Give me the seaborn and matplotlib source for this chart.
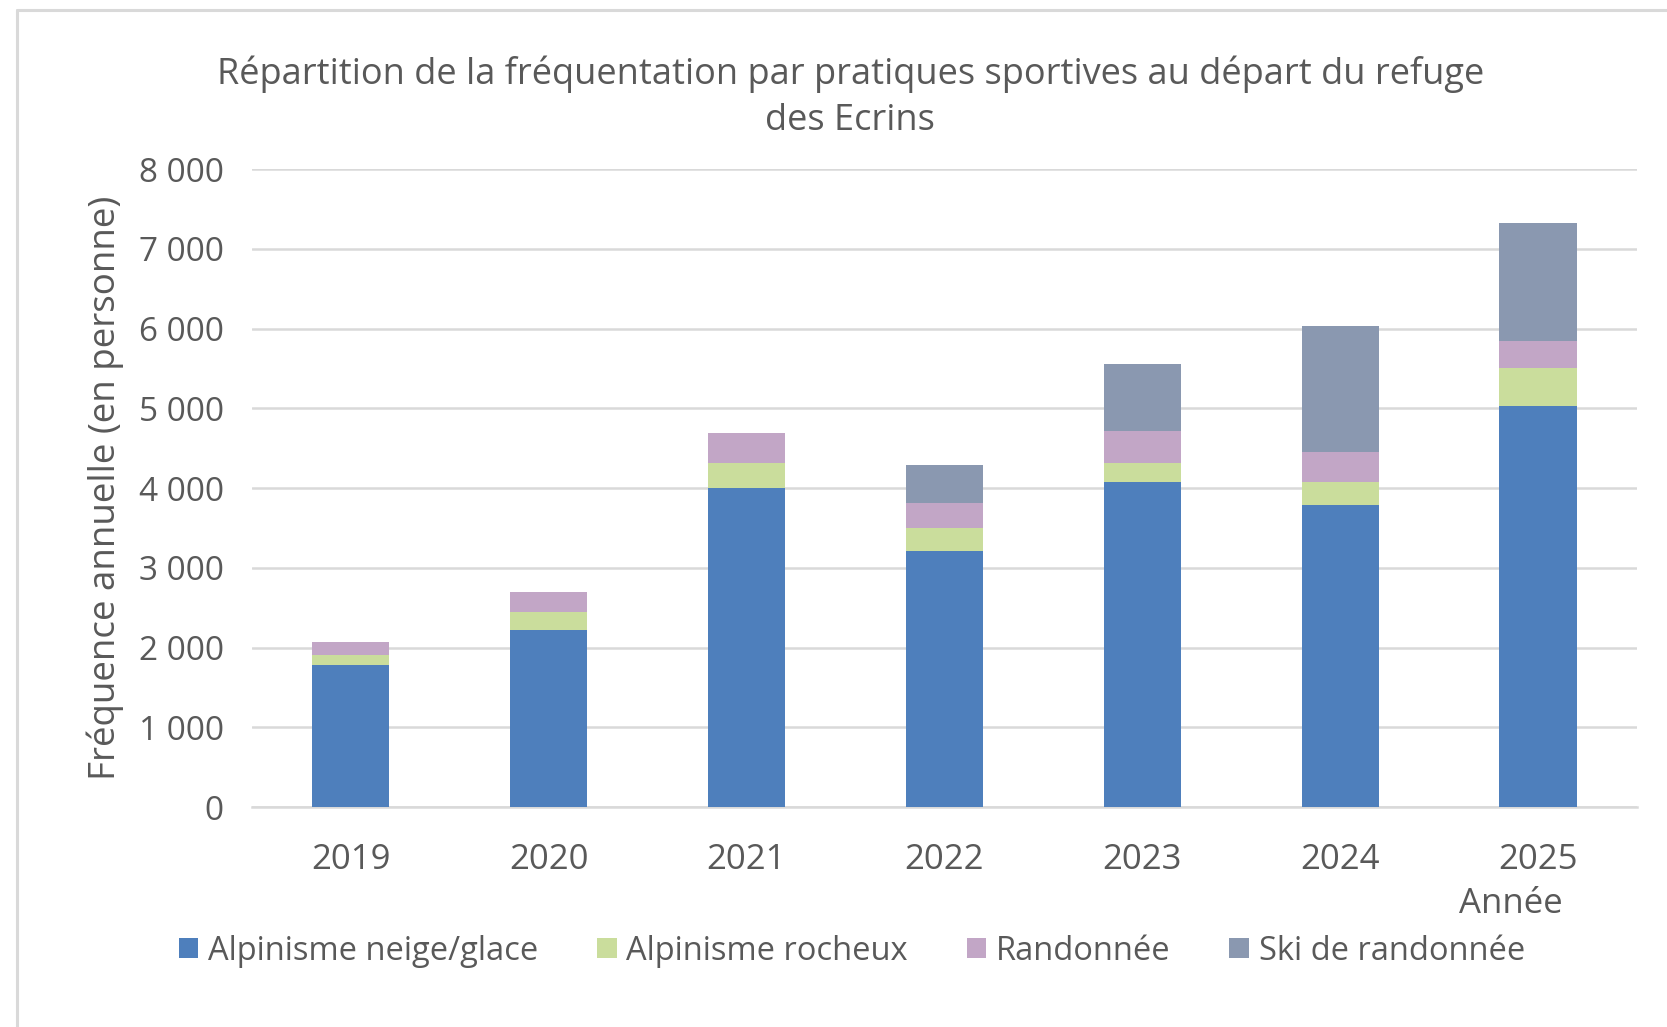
import pandas as pd
import matplotlib.pyplot as plt
import seaborn as sns
from matplotlib.patches import Patch
from matplotlib.lines import Line2D

years = ['2019', '2020', '2021', '2022', '2023', '2024', '2025']
alpi_neige = [1780, 2225, 3995, 3215, 4080, 3790, 5025]
alpi_roche = [130, 215, 325, 285, 240, 290, 475]
randonnee = [155, 260, 365, 315, 400, 370, 345]
ski_rando = [0, 0, 0, 480, 840, 1580, 1475]

series = ['Alpinisme neige/glace', 'Alpinisme rocheux', 'Randonnée', 'Ski de randonnée']
colors = ['#4E7FBC', '#CADD9C', '#C2A6C6', '#8A98B0']

df = pd.DataFrame({'annee': years, series[0]: alpi_neige, series[1]: alpi_roche,
                   series[2]: randonnee, series[3]: ski_rando})
# cumul pour empiler les barres
cumul = df[series].cumsum(axis=1)
cumul['annee'] = df['annee']

sns.set_theme(style="white")
plt.rcParams['font.family'] = ['Open Sans', 'DejaVu Sans']
txt = '#595959'

fig = plt.figure(figsize=(16.67, 10.27), dpi=100)
ax = fig.add_axes([0.151, 0.2142, 0.831, 0.6212])

# on dessine de la plus haute couche vers la plus basse
for name, col in reversed(list(zip(series, colors))):
    sns.barplot(data=cumul, x='annee', y=name, order=years, color=col,
                width=0.39, saturation=1, linewidth=0, ax=ax, zorder=3)

ax.set_ylim(0, 8000)
ax.set_xlim(-0.5, 6.5)
ax.set_yticks(range(0, 8001, 1000))
ax.set_yticklabels([f'{v:,}'.replace(',', ' ') for v in range(0, 8001, 1000)])
ax.grid(axis='y', color='#D9D9D9', linewidth=1.8, zorder=0)
for s in ['top', 'right', 'left']:
    ax.spines[s].set_visible(False)
ax.spines['bottom'].set_color('#D9D9D9')
ax.spines['bottom'].set_linewidth(1.8)
ax.tick_params(axis='y', length=0, labelsize=24, colors=txt, pad=20)
ax.tick_params(axis='x', length=0, labelsize=25, colors=txt, pad=26)

ax.set_xlabel('Année', fontsize=25, color=txt)
ax.xaxis.set_label_coords(0.909, -0.152)
ax.xaxis.label.set_va('center')
ax.set_ylabel('Fréquence annuelle (en personne)', fontsize=26.5, color=txt)
ax.yaxis.set_label_coords(-0.106, 0.5)
ax.yaxis.label.set_va('center')

fig.text(0.51, 0.905, 'Répartition de la fréquentation par pratiques sportives au départ du refuge\ndes Ecrins',
         ha='center', va='center', fontsize=26, color=txt, linespacing=1.38)

handles = [Patch(facecolor=c, edgecolor='none') for c in colors]
fig.legend(handles, series, loc='center', bbox_to_anchor=(0.511, 0.074), ncol=4, frameon=False,
           fontsize=23.5, labelcolor=txt, handlelength=0.6, handleheight=0.6, handletextpad=0.3,
           columnspacing=1.8)

# cadre de la zone graphique
fig.add_artist(Line2D([17 / 1667, 1], [1 - 10 / 1027, 1 - 10 / 1027], color='#D9D9D9', lw=2.2))
fig.add_artist(Line2D([17 / 1667, 17 / 1667], [0, 1 - 10 / 1027], color='#D9D9D9', lw=2.2))

fig.savefig('out.png', dpi=100, facecolor='white')
